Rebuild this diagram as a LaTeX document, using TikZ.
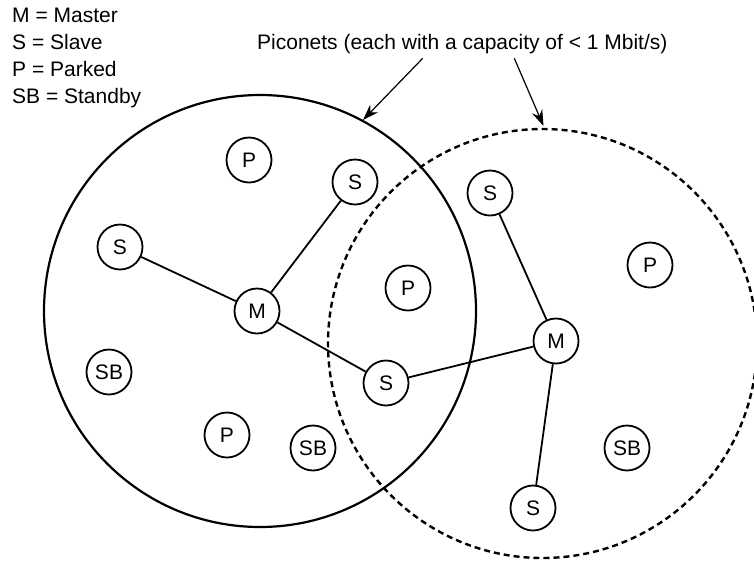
\documentclass[tikz,border=0pt]{standalone}
\usepackage{fontspec}
\setmainfont{Liberation Sans}
\usetikzlibrary{arrows.meta}
\tikzset{
  dev/.style={circle,draw,line width=1.8pt,minimum size=45pt,inner sep=0pt,font=\fontsize{21}{24}\selectfont},
  link/.style={line width=1.8pt},
  solidnet/.style={line width=2.2pt},
  dashnet/.style={line width=2.4pt,dash pattern=on 6pt off 4pt},
  callout/.style={line width=1.2pt,-{Stealth[length=16pt,width=11pt]}},
  txt/.style={anchor=base west,inner sep=0pt,font=\fontsize{21}{27}\selectfont}
}
\begin{document}
\begin{tikzpicture}[x=1pt,y=-1pt]
\useasboundingbox (0,0) rectangle (754,563);
% piconets
\draw[solidnet] (260,311) circle[radius=216];
\draw[dashnet] (542.5,343.5) circle[radius=214.5];
% legend
\node[txt] (l1) at (12,22) {M = Master};
\node[txt] (l2) at (12,49) {S = Slave};
\node[txt] (l3) at (12,76) {P = Parked};
\node[txt] (l4) at (12,103) {SB = Standby};
\node[txt] (pico) at (257,49) {Piconets (each with a capacity of < 1 Mbit/s)};
% callout arrows
\coordinate (a1s) at (422.7,58.3);
\coordinate (a1e) at (363,120);
\coordinate (a2s) at (514.3,58.3);
\coordinate (a2e) at (543.5,126);
\draw[callout] (a1s) -- (a1e);
\draw[callout] (a2s) -- (a2e);
% devices
\node[dev] (p1) at (249,160) {P};
\node[dev] (s1) at (355,182) {S};
\node[dev] (s2) at (120,247) {S};
\node[dev] (m1) at (257,311) {M};
\node[dev] (p2) at (408,288) {P};
\node[dev] (sb1) at (109,372) {SB};
\node[dev] (s3) at (386,383) {S};
\node[dev] (p3) at (227,435) {P};
\node[dev] (sb2) at (313,448) {SB};
\node[dev] (s4) at (490,193) {S};
\node[dev] (p4) at (650,265) {P};
\node[dev] (m2) at (556,341) {M};
\node[dev] (sb3) at (627,448) {SB};
\node[dev] (s5) at (533,508) {S};
% links
\draw[link] (m1) -- (s2);
\draw[link] (m1) -- (s1);
\draw[link] (m1) -- (s3);
\draw[link] (s3) -- (m2);
\draw[link] (m2) -- (s4);
\draw[link] (m2) -- (s5);
\end{tikzpicture}
\end{document}
